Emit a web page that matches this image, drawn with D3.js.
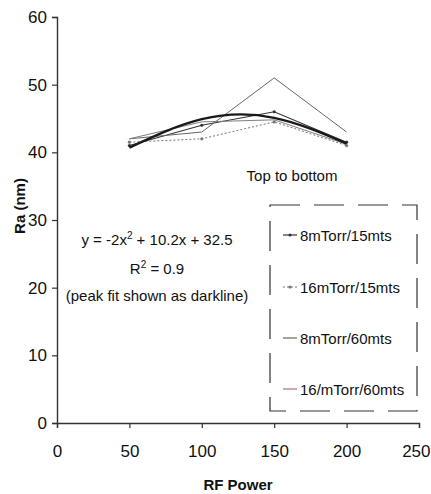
<!DOCTYPE html>
<html>
<head>
<meta charset="utf-8">
<script src="https://cdn.jsdelivr.net/npm/d3@7"></script>
<style>
  html, body { margin: 0; padding: 0; background: #fff; }
  svg { display: block; }
  text { font-family: "Liberation Sans Narrow", "Arial Narrow", "Liberation Sans", sans-serif; fill: #111; }
</style>
</head>
<body>
<svg id="chart" width="431" height="494"></svg>
<script>
// RF power settings (x) and surface roughness Ra (nm) for each process
const rfPower = [50, 100, 150, 200];
const xTicks = [0, 50, 100, 150, 200, 250];
const yTicks = [0, 10, 20, 30, 40, 50, 60];

const seriesNames = ["8mTorr/15mts", "16mTorr/15mts", "8mTorr/60mts", "16/mTorr/60mts"];
const ra8_15  = [41.0, 44.0, 46.0, 41.5];
const ra16_15 = [41.5, 42.0, 44.5, 41.0];
const ra8_60  = [42.0, 43.0, 51.0, 43.0];
const ra16_60 = [42.0, 44.5, 44.8, 41.2];

// quadratic peak fit, y = a x^2 + b x + c with x = run index 1..4
const fitCoef = [-2, 10.2, 32.5];
const fitIndex = [1, 2, 3, 4];

const svg = d3.select("#chart");
const x = d3.scaleLinear().domain([0, 250]).range([57, 419]);
const y = d3.scaleLinear().domain([0, 60]).range([423, 17]);

// axes
const yAxis = svg.append("g").attr("transform", "translate(57,0)")
  .call(d3.axisLeft(y).tickValues(yTicks).tickSize(5).tickPadding(5));
const xAxis = svg.append("g").attr("transform", "translate(0,423)")
  .call(d3.axisBottom(x).tickValues(xTicks).tickSize(5).tickPadding(17));
[xAxis, yAxis].forEach(g => {
  g.select(".domain").attr("stroke", "#333").attr("stroke-width", 1.4);
  g.selectAll(".tick line").attr("stroke", "#333").attr("stroke-width", 1.2);
  g.selectAll(".tick text").style("font-size", "17px").attr("fill", "#111");
});
// last x label sits against the right edge of the page
xAxis.selectAll(".tick text").filter(d => d === 250)
  .attr("text-anchor", "end").attr("x", 11);

svg.append("text").attr("x", 238).attr("y", 490).attr("text-anchor", "middle")
  .style("font-size", "15px").style("font-weight", "bold").text("RF Power");
svg.append("text").attr("transform", "translate(25,206) rotate(-90)")
  .attr("text-anchor", "middle").style("font-size", "15px").style("font-weight", "bold")
  .text("Ra (nm)");

// data series
const series = [
  { name: seriesNames[0], v: ra8_15,  color: "#333", width: 1.1, dash: null, marker: "dash" },
  { name: seriesNames[1], v: ra16_15, color: "#777", width: 1.0, dash: "2,2", marker: "plus" },
  { name: seriesNames[2], v: ra8_60,  color: "#666", width: 1.0, dash: null, marker: null },
  { name: seriesNames[3], v: ra16_60, color: "#8a7a78", width: 1.0, dash: null, marker: null }
];
const line = d3.line().x((d, i) => x(rfPower[i])).y(d => y(d));
series.forEach(s => {
  svg.append("path").datum(s.v).attr("d", line).attr("fill", "none")
    .attr("stroke", s.color).attr("stroke-width", s.width)
    .attr("stroke-dasharray", s.dash);
  if (s.marker) {
    svg.selectAll(null).data(s.v).enter().append("circle")
      .attr("cx", (d, i) => x(rfPower[i])).attr("cy", d => y(d))
      .attr("r", 1.6).attr("fill", s.color);
  }
});

// peak fit drawn as a dark smooth curve
const fitVals = fitIndex.map(k => fitCoef[0] * k * k + fitCoef[1] * k + fitCoef[2]);
svg.append("path").datum(fitVals)
  .attr("d", d3.line().x((d, i) => x(rfPower[i])).y(d => y(d)).curve(d3.curveNatural))
  .attr("fill", "none").attr("stroke", "#1a1a1a").attr("stroke-width", 2.4);

// equation annotation
const eq = svg.append("text").attr("x", 157).attr("y", 245).attr("text-anchor", "middle")
  .style("font-size", "15px");
eq.append("tspan").text("y = -2x");
eq.append("tspan").attr("dy", -6).style("font-size", "10px").text("2");
eq.append("tspan").attr("dy", 6).text(" + 10.2x + 32.5");
const r2 = svg.append("text").attr("x", 157).attr("y", 274).attr("text-anchor", "middle")
  .style("font-size", "15px");
r2.append("tspan").text("R");
r2.append("tspan").attr("dy", -6).style("font-size", "10px").text("2");
r2.append("tspan").attr("dy", 6).text(" = 0.9");
svg.append("text").attr("x", 157).attr("y", 301).attr("text-anchor", "middle")
  .style("font-size", "15px").text("(peak fit shown as darkline)");

svg.append("text").attr("x", 292).attr("y", 181).attr("text-anchor", "middle")
  .style("font-size", "15px").text("Top to bottom");

// legend
svg.append("rect").attr("x", 270).attr("y", 205).attr("width", 147).attr("height", 206)
  .attr("fill", "none").attr("stroke", "#333").attr("stroke-width", 1.2)
  .attr("stroke-dasharray", "30,14");
const legY = [235, 287, 338, 389];
series.forEach((s, i) => {
  svg.append("line").attr("x1", 283).attr("x2", 297).attr("y1", legY[i]).attr("y2", legY[i])
    .attr("stroke", i === 3 ? "#b07070" : s.color).attr("stroke-width", 1.2)
    .attr("stroke-dasharray", s.dash);
  if (s.marker) {
    svg.append("circle").attr("cx", 290).attr("cy", legY[i]).attr("r", 1.6).attr("fill", s.color);
  }
  svg.append("text").attr("x", 300).attr("y", legY[i] + 5.5)
    .style("font-size", "15px").text(s.name);
});
</script>
</body>
</html>
